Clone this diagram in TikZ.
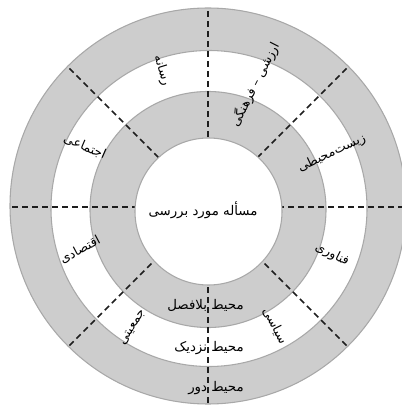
\documentclass[tikz,border=0pt]{standalone}
\usepackage{fontspec}
\newfontfamily\farsi[Script=Arabic]{DejaVu Sans}
\TeXXeTstate=1
\definecolor{ring}{HTML}{CDCDCD}
\definecolor{rim}{HTML}{A8A8A8}
\definecolor{ink}{HTML}{1E1E1E}
\newcommand{\fa}[1]{\beginR #1\endR}

\begin{document}
\begin{tikzpicture}[x=0.75pt,y=0.75pt,
  disc/.style={draw=rim,line width=0.8pt},
  sep/.style={draw=ink,line width=1.1pt,dash pattern=on 4.5pt off 3pt},
  lab/.style={font=\farsi\fontsize{9.5}{11}\selectfont,inner sep=0pt,text=black},
  big/.style={lab,font=\farsi\fontsize{10}{12}\selectfont}]
\useasboundingbox (-208,-199) rectangle (194,207);
\filldraw[disc,fill=ring] (0,1) circle (198);
\filldraw[disc,fill=white] (1,-1.5) circle (158);
\filldraw[disc,fill=ring] (0,-2.5) circle (118);
\foreach \a in {0,45,...,315}
  \draw[sep] (\a:0) -- (\a:198);
\filldraw[disc,fill=white] (0.5,-4.5) circle (73.5);
\node[big] (core) at (-5,-3) {\fa{مسأله مورد بررسی}};
\node[big,anchor=east] (near) at (36,-98) {\fa{محیط بلافصل}};
\node[big,anchor=east] (mid) at (36,-141) {\fa{محیط نزدیک}};
\node[big,anchor=east] (far) at (36,-181) {\fa{محیط دور}};
\node[lab,rotate=25] (env) at (23.5:135) {\fa{زیست‌محیطی}};
\node[lab,rotate=63] (cult) at (69:131) {\fa{ارزشی – فرهنگی}};
\node[lab,rotate=-73] (media) at (108.6:144) {\fa{رسانه}};
\node[lab,rotate=-23] (soc) at (154:137) {\fa{اجتماعی}};
\node[lab,rotate=28] (econ) at (198.6:135) {\fa{اقتصادی}};
\node[lab,rotate=58] (demo) at (238:142) {\fa{جمعیتی}};
\node[lab,rotate=-63] (pol) at (299.4:136.5) {\fa{سیاسی}};
\node[lab,rotate=-27] (tech) at (339:133) {\fa{فناوری}};
\end{tikzpicture}
\end{document}
